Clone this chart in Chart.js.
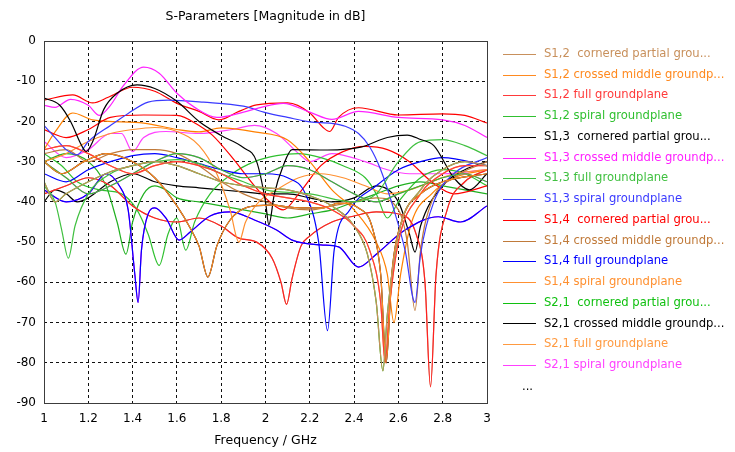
<!DOCTYPE html>
<html>
<head>
<meta charset="utf-8">
<script src="https://cdn.jsdelivr.net/npm/chart.js@4.4.1/dist/chart.umd.min.js"></script>
<style>
	html, body { margin: 0; padding: 0; background: #fff; }
	canvas { display: block; }
</style>
</head>
<body>
<canvas id="sparams" width="735" height="452"></canvas>
<script>
// S-parameter magnitudes, [frequency GHz, dB]
const s12Cornered = [[1.0,-35],[1.05,-40],[1.1,-38],[1.2,-35],[1.3,-32.5],[1.4,-31],[1.5,-30],[1.6,-31],[1.7,-33],[1.8,-35],[1.9,-36],[2.0,-36.5],[2.1,-37],[2.2,-38.5],[2.3,-41],[2.4,-46],[2.46,-53],[2.5,-65],[2.53,-82],[2.55,-68],[2.6,-48],[2.7,-37],[2.8,-32],[2.9,-30],[3.0,-31]]
const s12Crossed = [[1.0,-30],[1.08,-33],[1.18,-30],[1.28,-28],[1.4,-30],[1.5,-34],[1.6,-41],[1.66,-46.5],[1.7,-51],[1.74,-58.7],[1.78,-51],[1.84,-44.5],[1.92,-41.3],[2.02,-40.8],[2.16,-41.5],[2.26,-41.5],[2.33,-40.3],[2.42,-41.5],[2.48,-46],[2.52,-58],[2.545,-80],[2.57,-58],[2.62,-44],[2.7,-38],[2.8,-35],[3.0,-33]]
const s12Full = [[1.0,-27],[1.1,-26],[1.2,-28],[1.3,-31],[1.4,-33],[1.5,-31],[1.6,-30],[1.7,-31],[1.8,-33],[1.9,-36],[2.0,-38],[2.1,-39],[2.2,-40],[2.3,-42],[2.4,-46],[2.47,-52],[2.52,-65],[2.54,-80],[2.56,-66],[2.6,-50],[2.7,-38],[2.8,-33],[2.9,-31],[3.0,-31]]
const s12Spiral = [[1.0,-30],[1.1,-34],[1.2,-38],[1.3,-36],[1.4,-33],[1.5,-30],[1.6,-28],[1.7,-29],[1.8,-32],[1.9,-34],[2.0,-33],[2.1,-31],[2.2,-32],[2.3,-35],[2.4,-38],[2.5,-40],[2.6,-38],[2.7,-36],[2.8,-34],[2.9,-33],[3.0,-35]]
const s13Cornered = [[1.0,-14.2],[1.07,-15.9],[1.12,-20],[1.17,-26],[1.19,-27.5],[1.22,-25],[1.27,-17],[1.33,-13],[1.42,-10.9],[1.5,-11.8],[1.6,-15],[1.7,-20],[1.8,-23.5],[1.9,-26.5],[1.96,-30],[2.0,-40],[2.015,-45.7],[2.04,-38],[2.08,-31],[2.12,-27],[2.28,-27.1],[2.43,-26.4],[2.55,-24],[2.64,-23.4],[2.7,-24.5],[2.76,-26],[2.85,-34],[2.92,-37],[3.0,-33]]
const s13Crossed = [[1.0,-16],[1.05,-16.5],[1.12,-14.5],[1.2,-16],[1.25,-18.5],[1.3,-16],[1.36,-11],[1.45,-6.5],[1.52,-8],[1.6,-13],[1.68,-16.5],[1.78,-19],[1.88,-18],[1.98,-16.5],[2.08,-15.5],[2.2,-17.7],[2.3,-19.5],[2.42,-17.5],[2.6,-19],[2.8,-19.6],[2.9,-21],[3.0,-24]]
const s13Full = [[1.0,-36],[1.05,-40],[1.08,-47],[1.11,-54],[1.14,-46],[1.2,-38],[1.3,-33],[1.4,-31],[1.5,-30],[1.6,-29.5],[1.7,-30.5],[1.8,-33],[1.9,-35],[2.0,-37],[2.2,-38],[2.4,-40],[2.5,-38],[2.6,-30],[2.7,-25],[2.8,-24.5],[2.9,-26],[3.0,-28.5]]
const s13Spiral = [[1.0,-21],[1.05,-24],[1.1,-27],[1.15,-28.3],[1.2,-25],[1.3,-21],[1.38,-18],[1.47,-15.2],[1.56,-14.7],[1.72,-15.2],[1.9,-16.2],[2.0,-17.8],[2.1,-19],[2.2,-20.1],[2.3,-20.5],[2.36,-21.2],[2.42,-23],[2.47,-26.3],[2.52,-32],[2.58,-42],[2.63,-52],[2.675,-65],[2.7,-53],[2.76,-40],[2.85,-33],[3.0,-29]]
const s14Cornered = [[1.0,-14.7],[1.13,-13.4],[1.22,-15.4],[1.29,-14],[1.4,-11.5],[1.5,-12.5],[1.6,-15.5],[1.7,-17.5],[1.79,-19.6],[1.88,-17.5],[1.96,-15.9],[2.1,-15.4],[2.2,-17.9],[2.26,-21.5],[2.29,-22.5],[2.33,-19],[2.42,-16.6],[2.6,-18.4],[2.8,-18.1],[2.9,-18.5],[3.0,-20.4]]
const s14Crossed = [[1.0,-28],[1.1,-27],[1.2,-30],[1.3,-28],[1.4,-27],[1.5,-27],[1.6,-28],[1.7,-31],[1.8,-35],[1.9,-38],[2.0,-40],[2.1,-41.5],[2.2,-42],[2.3,-41],[2.4,-40],[2.5,-39],[2.6,-42],[2.64,-50],[2.675,-67],[2.7,-52],[2.75,-40],[2.85,-34],[3.0,-30]]
const s14Full = [[1.0,-33],[1.1,-35],[1.2,-32],[1.3,-30],[1.4,-28.5],[1.5,-28],[1.6,-29],[1.7,-30.5],[1.8,-32],[1.9,-33],[2.0,-33],[2.1,-34],[2.18,-38],[2.24,-50],[2.28,-72],[2.31,-52],[2.38,-42],[2.5,-36],[2.6,-32],[2.7,-30],[2.8,-29],[3.0,-31]]
const s14Spiral = [[1.0,-30],[1.1,-28],[1.2,-25],[1.3,-23],[1.4,-22],[1.5,-21.5],[1.6,-22.5],[1.7,-26],[1.78,-33],[1.84,-42],[1.88,-50],[1.91,-45],[1.97,-40],[2.05,-37],[2.15,-34],[2.25,-33],[2.35,-34],[2.45,-36],[2.55,-38],[2.65,-37],[2.75,-35],[2.85,-33],[3.0,-32]]

// further port pairs behind the "..." entry
const s23Full = [[1.0,-37],[1.1,-40],[1.2,-38],[1.28,-33],[1.34,-36],[1.38,-42],[1.41,-58],[1.425,-65],[1.44,-52],[1.47,-43],[1.5,-41.5],[1.55,-44],[1.61,-49.5],[1.66,-47.5],[1.75,-43.5],[1.84,-42.5],[1.95,-44.5],[2.05,-47],[2.12,-49.5],[2.25,-50.7],[2.33,-51.2],[2.42,-56.2],[2.5,-53],[2.63,-47],[2.78,-43.7],[2.88,-45],[3.0,-41]]
const s23Crossed = [[1.0,-38],[1.1,-36],[1.2,-34],[1.3,-36],[1.4,-41],[1.5,-44],[1.6,-45],[1.7,-44],[1.8,-46],[1.88,-49],[1.96,-50],[2.03,-54],[2.07,-60],[2.095,-65.5],[2.12,-59],[2.16,-51],[2.2,-48.5],[2.3,-45],[2.4,-43.5],[2.5,-42.5],[2.6,-43],[2.68,-48],[2.72,-60],[2.745,-86],[2.77,-58],[2.82,-42],[2.9,-35],[3.0,-32]]
const s24Cornered = [[1.0,-22],[1.1,-24],[1.2,-22],[1.3,-19],[1.45,-18.4],[1.6,-18.5],[1.7,-21],[1.76,-23.4],[1.85,-29],[1.95,-36],[2.02,-40],[2.08,-42],[2.15,-38],[2.25,-31],[2.35,-27.5],[2.45,-26.2],[2.55,-27],[2.65,-30],[2.75,-35],[2.85,-38],[3.0,-36]]
const s24Crossed = [[1.0,-27],[1.05,-22.6],[1.13,-17.9],[1.22,-19.6],[1.45,-20.4],[1.6,-22],[1.7,-22.6],[1.8,-21.6],[1.95,-22.6],[2.1,-24.6],[2.2,-30],[2.3,-37],[2.4,-42],[2.5,-50],[2.55,-58],[2.58,-70],[2.61,-58],[2.66,-45],[2.75,-38],[2.85,-34],[3.0,-32]]
const s23Spiral = [[1.0,-30],[1.1,-28],[1.2,-30],[1.28,-36],[1.33,-45],[1.37,-53],[1.4,-45],[1.45,-38],[1.5,-36],[1.55,-37],[1.6,-39],[1.7,-40],[1.8,-41],[1.9,-42],[2.0,-43],[2.1,-44],[2.2,-43],[2.3,-42],[2.4,-40],[2.5,-38],[2.6,-36],[2.7,-35],[2.8,-36],[2.9,-37],[3.0,-38]]
const s24Spiral = [[1.0,-28],[1.08,-31],[1.15,-35],[1.25,-37],[1.35,-38],[1.42,-42],[1.47,-48],[1.52,-55.8],[1.56,-48],[1.6,-44],[1.64,-52],[1.68,-45],[1.75,-38],[1.85,-33],[1.95,-30],[2.05,-28.5],[2.15,-28],[2.25,-29],[2.35,-31],[2.45,-34],[2.5,-38],[2.55,-44],[2.6,-40],[2.7,-34],[2.8,-32],[2.9,-33],[3.0,-36]]
const s34Cornered = [[1.0,-40],[1.05,-37],[1.1,-38],[1.15,-40],[1.2,-39],[1.3,-35],[1.4,-33],[1.5,-35],[1.6,-36],[1.7,-36.5],[1.8,-37],[1.9,-37.5],[2.0,-38],[2.1,-38],[2.2,-39],[2.3,-40],[2.4,-39],[2.5,-36],[2.6,-40],[2.65,-48],[2.675,-52.5],[2.7,-46],[2.8,-36],[2.9,-32],[3.0,-30]]
const s34Crossed = [[1.0,-25],[1.1,-29],[1.2,-27],[1.3,-23],[1.35,-23],[1.4,-27.5],[1.45,-24],[1.55,-22.5],[1.7,-23],[1.85,-22],[1.95,-21],[2.05,-23],[2.15,-28],[2.2,-30],[2.3,-28],[2.45,-30],[2.55,-32],[2.65,-33],[2.8,-33],[3.0,-32]]

const legendNames = [
	'S1,2  cornered partial grou...', 'S1,2 crossed middle groundp...', 'S1,2 full groundplane', 'S1,2 spiral groundplane',
	'S1,3  cornered partial grou...', 'S1,3 crossed middle groundp...', 'S1,3 full groundplane', 'S1,3 spiral groundplane',
	'S1,4  cornered partial grou...', 'S1,4 crossed middle groundp...', 'S1,4 full groundplane', 'S1,4 spiral groundplane',
	'S2,1  cornered partial grou...', 'S2,1 crossed middle groundp...', 'S2,1 full groundplane', 'S2,1 spiral groundplane',
]
const legendColors = [
	'#c8905c', '#ff8a20', '#ff3a3a', '#30c030',
	'#000000', '#ff20ff', '#40c040', '#3a3aff',
	'#ff0000', '#c07a3a', '#0000ff', '#ff9030',
	'#10c010', '#000000', '#ff9a40', '#ff40ff',
]
// S2,1 equals S1,2 (reciprocal network)
const legendSeries = [
	s12Cornered, s12Crossed, s12Full, s12Spiral,
	s13Cornered, s13Crossed, s13Full, s13Spiral,
	s14Cornered, s14Crossed, s14Full, s14Spiral,
	s12Cornered, s12Crossed, s12Full, s12Spiral,
]
const hiddenSeries = [s23Full, s23Full, s23Crossed, s23Crossed, s24Cornered, s24Crossed, s23Spiral, s24Spiral, s34Cornered, s34Crossed]
const hiddenColors = ['#0000ff', '#ff00ff', '#ff2020', '#d0a080', '#ff0000', '#ff8000', '#20b020', '#30c030', '#000000', '#ff40ff']

const FONT = '"DejaVu Sans", Verdana, sans-serif'

function toPoints(series) {
	return series.map(p => ({ x: p[0], y: p[1] }))
}

function lineSet(label, series, color) {
	return {
		label,
		data: toPoints(series),
		borderColor: color,
		backgroundColor: color,
		borderWidth: 1.2,
		pointRadius: 0,
		cubicInterpolationMode: 'monotone',
		fill: false,
	}
}

const datasets = legendSeries.map((s, i) => lineSet(legendNames[i], s, legendColors[i]))
hiddenSeries.forEach((s, i) => datasets.push(lineSet('', s, hiddenColors[i])))

// title, frame and the side legend
const decorations = {
	id: 'decorations',
	afterDraw(chart) {
		const { ctx, chartArea: a } = chart
		ctx.save()
		ctx.strokeStyle = '#3c3c3c'
		ctx.lineWidth = 1
		ctx.strokeRect(a.left + 0.5, a.top + 0.5, a.right - a.left, a.bottom - a.top)

		ctx.fillStyle = '#000'
		ctx.font = '12.5px ' + FONT
		ctx.textAlign = 'center'
		ctx.textBaseline = 'middle'
		ctx.fillText('S-Parameters [Magnitude in dB]', (a.left + a.right) / 2, 17)

		ctx.font = '11.6px ' + FONT
		ctx.textAlign = 'left'
		const x0 = a.right + 16
		legendNames.forEach((name, i) => {
			const y = 54 + i * 20.73
			ctx.strokeStyle = legendColors[i]
			ctx.beginPath()
			ctx.moveTo(x0, Math.round(y) + 0.5)
			ctx.lineTo(x0 + 33, Math.round(y) + 0.5)
			ctx.stroke()
			ctx.fillStyle = legendColors[i]
			ctx.fillText(name, x0 + 41, y)
		})
		ctx.fillStyle = '#000'
		ctx.fillText('...', x0 + 19, 54 + 16 * 20.73 + 1)
		ctx.restore()
	},
}

new Chart(document.getElementById('sparams'), {
	type: 'line',
	data: { datasets },
	options: {
		responsive: false,
		animation: false,
		devicePixelRatio: 1,
		layout: { padding: { top: 41, right: 248, bottom: 0, left: 0 } },
		plugins: {
			legend: { display: false },
			title: { display: false },
			tooltip: { enabled: false },
		},
		scales: {
			x: {
				type: 'linear',
				min: 1,
				max: 3,
				afterFit: s => { s.height = 49 },
				ticks: {
					stepSize: 0.2,
					color: '#000',
					font: { family: FONT, size: 12 },
					padding: 9,
					maxRotation: 0,
					callback: v => String(+v.toFixed(1)),
				},
				grid: { color: '#101010', drawTicks: false },
				border: { display: false, dash: [3, 3] },
				title: {
					display: true,
					text: 'Frequency / GHz',
					color: '#000',
					font: { family: FONT, size: 12.5 },
					padding: { top: 0, bottom: 4 },
				},
			},
			y: {
				min: -90,
				max: 0,
				afterFit: s => { s.width = 44 },
				ticks: {
					stepSize: 10,
					color: '#000',
					font: { family: FONT, size: 12 },
					padding: 8,
				},
				grid: { color: '#101010', drawTicks: false },
				border: { display: false, dash: [3, 3] },
			},
		},
	},
	plugins: [decorations],
})
</script>
</body>
</html>
